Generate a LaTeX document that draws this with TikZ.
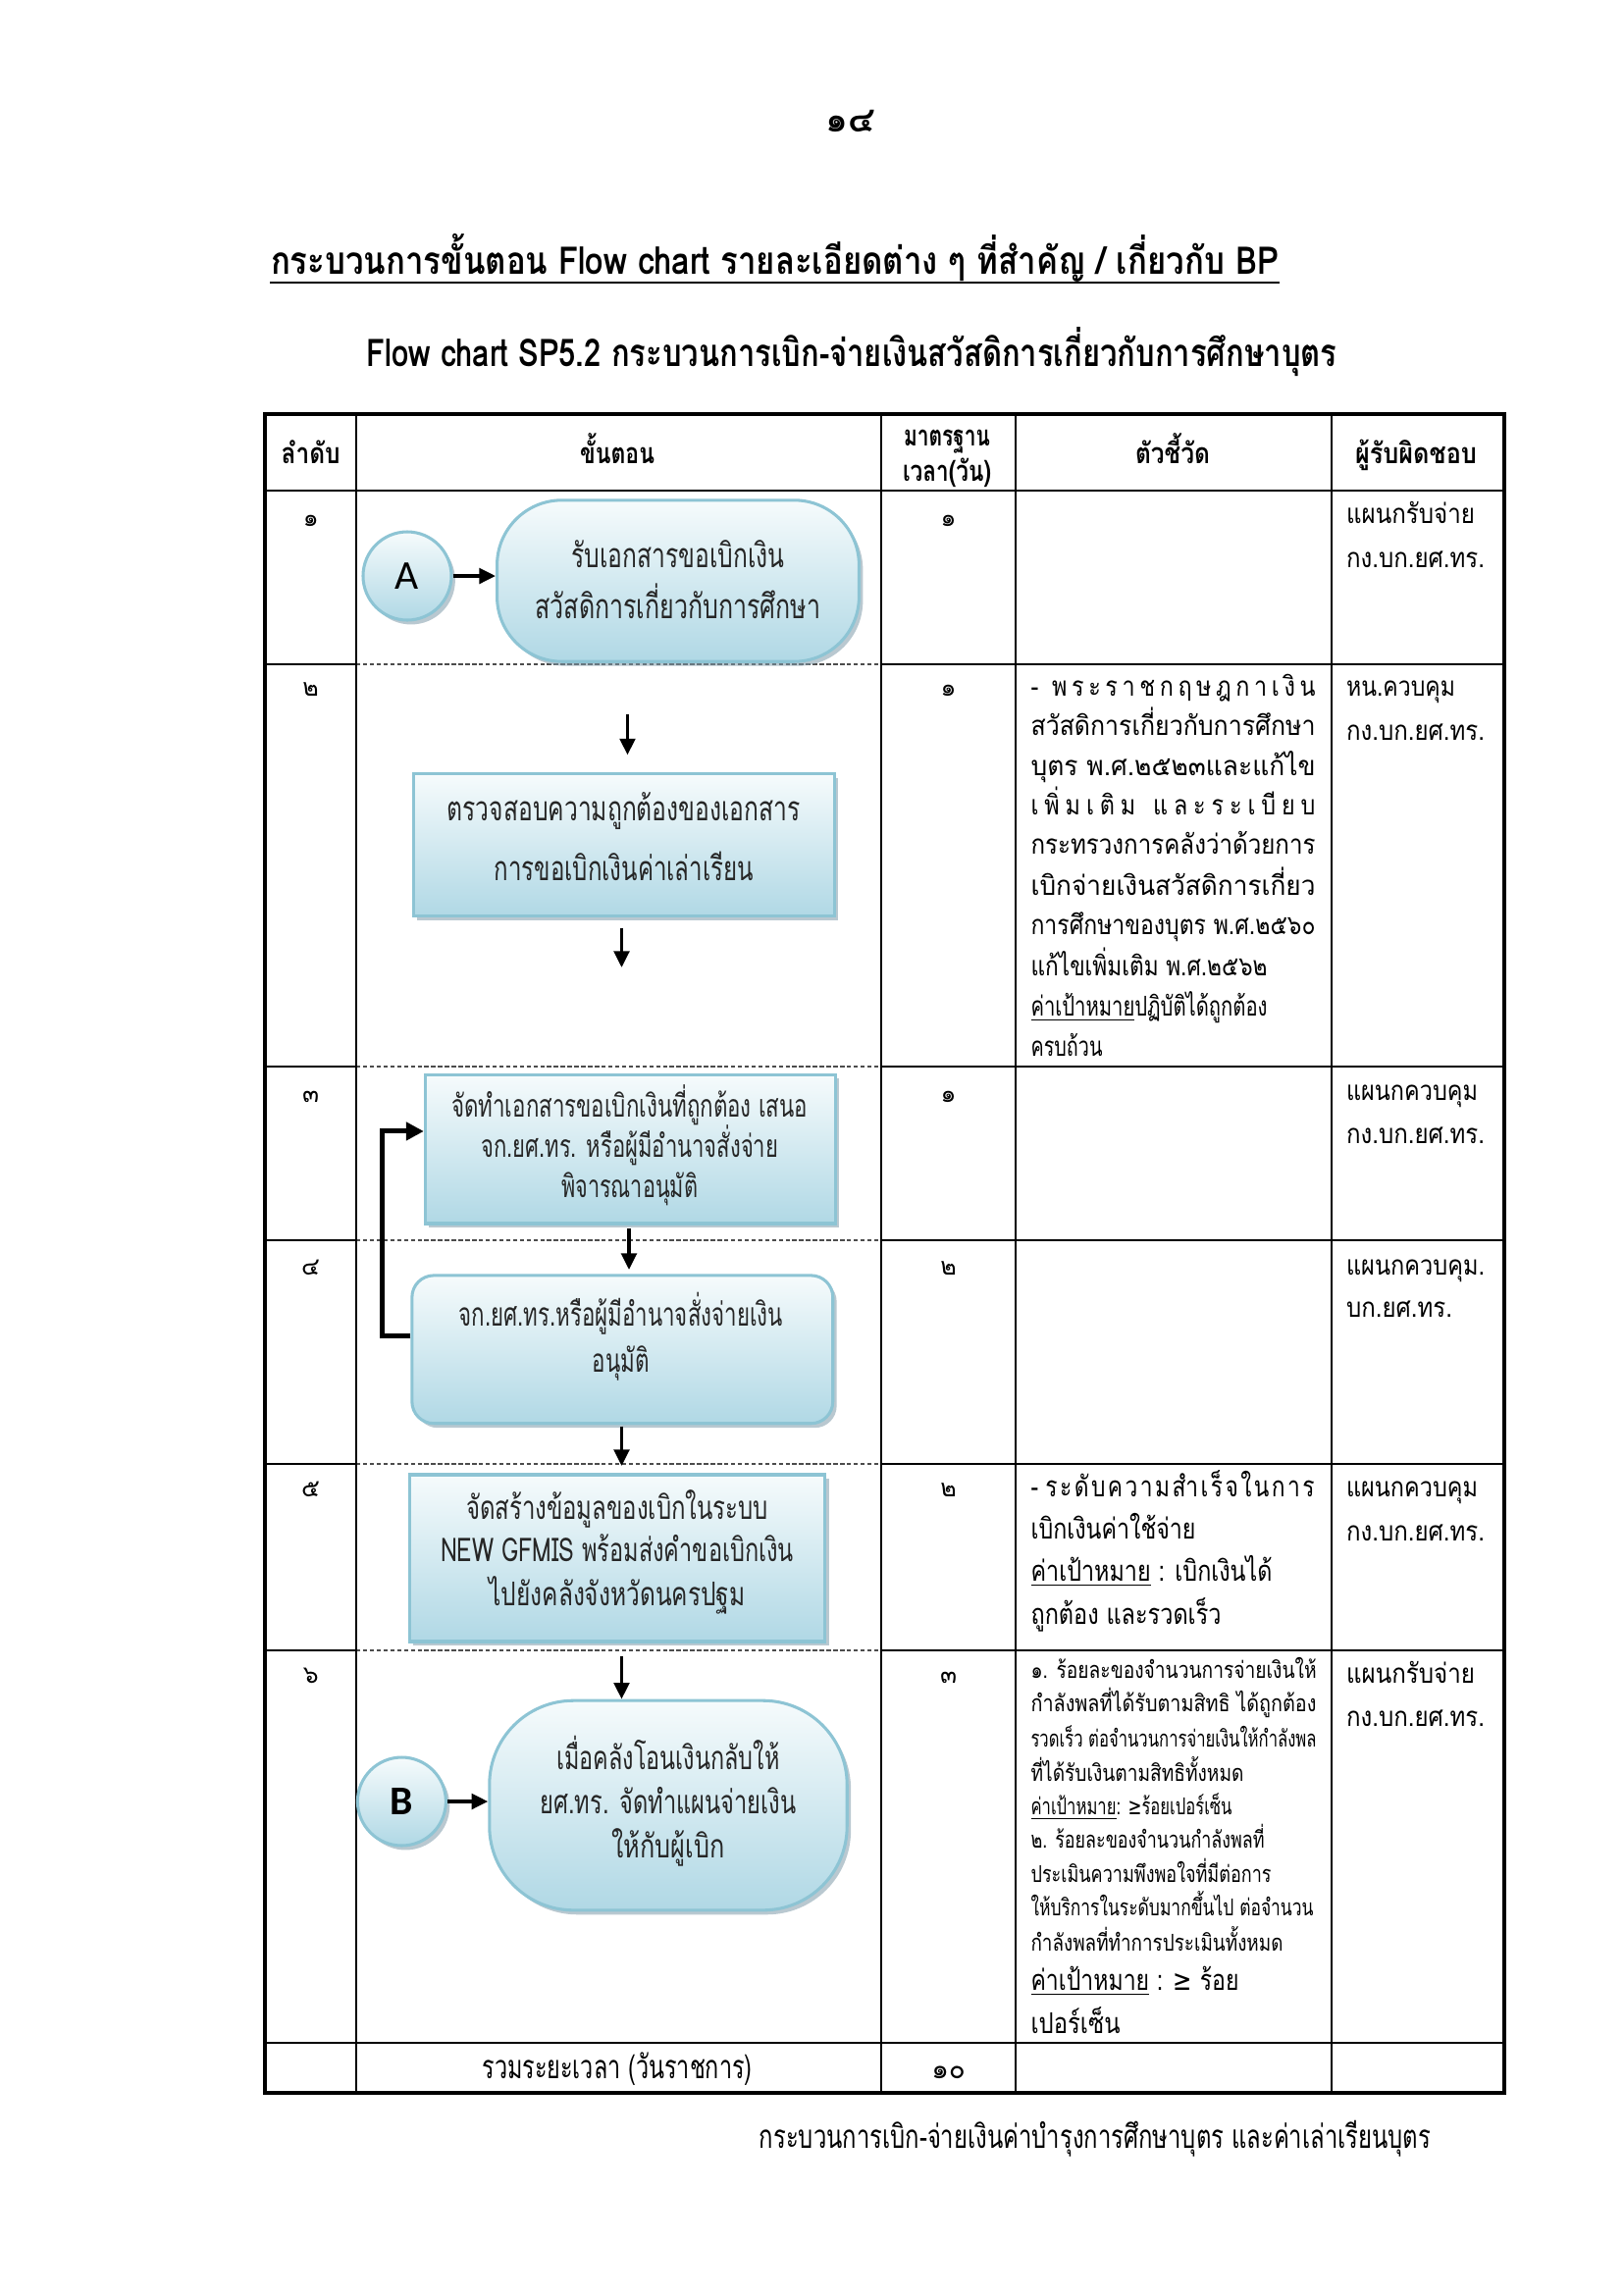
\documentclass[tikz,border=0pt]{standalone}
\usepackage{fontspec}
\usepackage{graphicx}
\setmainfont[Script=Thai]{Loma}
\newfontfamily\symfont{DejaVu Sans}
\newfontfamily\latfont{Carlito}
\usetikzlibrary{shadows,arrows.meta,calc}
\newdimen\pxu \pxu=0.36pt
\newcommand{\fit}[2]{\resizebox{#1\pxu}{\height}{#2}}
\newcommand{\fsz}[1]{\fontsize{#1}{#1}\selectfont}
\definecolor{bord}{RGB}{141,196,212}
\definecolor{fillB}{RGB}{176,216,229}
\definecolor{fillT}{RGB}{246,251,252}
\definecolor{shad}{RGB}{128,156,170}
\begin{document}
\begin{tikzpicture}[x=0.36pt, y=-0.36pt,
  flow/.style={draw=bord, line width=1.1pt, top color=fillT, bottom color=fillB, inner sep=0pt,
    drop shadow={shadow xshift=1.4pt, shadow yshift=-1.6pt, fill=shad, opacity=0.55}},
  arr/.style={line width=1.3pt, -{Triangle[length=6pt,width=5.6pt]}},
  backarr/.style={line width=1.8pt, -{Triangle[length=6.5pt,width=6.5pt]}},
  ltx/.style={anchor=mid west, inner sep=0pt},
  ctx/.style={anchor=mid, inner sep=0pt},
  outer/.style={line width=1.4pt},
  inner/.style={line width=0.9pt},
  dsh/.style={line width=0.45pt, dash pattern=on 1.6pt off 0.9pt, black!70},
  hd/.style={ctx, font=\bfseries\fsz{10.5}},
  num/.style={ctx, font=\fsz{9}},
  resp/.style={ltx, font=\fsz{10}},
  indA/.style={ltx, font=\fsz{10}},
  indB/.style={ltx, font=\fsz{10.5}},
  indC/.style={ltx, font=\fsz{8.5}},
  ftx/.style={ctx, text=black!85},
]
\fill[white] (0,0) rectangle (1654,2339);
\useasboundingbox (0,0) rectangle (1654,2339);

% ---- titles ----
\node[ctx, font=\bfseries\fsz{13}] (pg) at (866.5,127) {๑๔};
\node[ctx, font=\bfseries\fsz{14}] (t1) at (789.5,272) {\fit{1027}{กระบวนการขั้นตอน Flow chart รายละเอียดต่าง ๆ ที่สำคัญ / เกี่ยวกับ BP}};
\draw[line width=0.9pt] ($(t1.mid west)+(0,16)$) -- ($(t1.mid east)+(0,16)$);
\node[ctx, font=\bfseries\fsz{14}] (t2) at (868,366) {\fit{989}{Flow chart SP5.2 กระบวนการเบิก-จ่ายเงินสวัสดิการเกี่ยวกับการศึกษาบุตร}};

% ---- table ----
\foreach \y in {677,1087,1264,1492,1682} {
  \draw[inner] (270,\y) -- (363,\y);
  \draw[inner] (898,\y) -- (1533,\y);
  \draw[dsh] (363,\y) -- (898,\y);
}
\foreach \x in {363,898,1035,1357} \draw[inner] (\x,422) -- (\x,2133);
\foreach \y in {500,2082} \draw[inner] (270,\y) -- (1533,\y);
\draw[outer] (270,422) rectangle (1533,2133);

% header
\node[hd] (h1) at (316.7,465) {\fit{60}{ลำดับ}};
\node[hd] (h2) at (629,465) {\fit{76}{ขั้นตอน}};
\node[hd] (h3a) at (965,447) {\fit{88}{มาตรฐาน}};
\node[hd] (h3b) at (965,483) {\fit{90}{เวลา(วัน)}};
\node[hd] (h4) at (1195,465) {\fit{76}{ตัวชี้วัด}};
\node[hd] (h5) at (1443,465) {\fit{124}{ผู้รับผิดชอบ}};

% order numbers
\node[num] (n1) at (316.7,529) {๑};
\node[num] (n2) at (316.7,702) {๒};
\node[num] (n3) at (316.7,1116) {๓};
\node[num] (n4) at (316.7,1292) {๔};
\node[num] (n5) at (316.7,1518) {๕};
\node[num] (n6) at (316.7,1708) {๖};
% time
\node[num] (d1) at (966.6,529) {๑};
\node[num] (d2) at (966.6,702) {๑};
\node[num] (d3) at (966.6,1116) {๑};
\node[num] (d4) at (966.6,1292) {๒};
\node[num] (d5) at (966.6,1518) {๒};
\node[num] (d6) at (966.6,1708) {๓};
\node[num, font=\fsz{10}] (dt) at (966.6,2111) {๑๐};

% responsible
\node[resp] (rA1) at (1371.5,526) {\fit{131}{แผนกรับจ่าย}};
\node[resp] (rA2) at (1371.5,571) {\fit{141}{กง.บก.ยศ.ทร.}};
\node[resp] (rB1) at (1371.5,702) {\fit{111}{หน.ควบคุม}};
\node[resp] (rB2) at (1371.5,747) {\fit{141}{กง.บก.ยศ.ทร.}};
\node[resp] (rC1) at (1371.5,1114.5) {\fit{134}{แผนกควบคุม}};
\node[resp] (rC2) at (1371.5,1158) {\fit{141}{กง.บก.ยศ.ทร.}};
\node[resp] (rD1) at (1371.5,1292) {\fit{141}{แผนกควบคุม.}};
\node[resp] (rD2) at (1371.5,1335.6) {\fit{108}{บก.ยศ.ทร.}};
\node[resp] (rE1) at (1371.5,1518) {\fit{134}{แผนกควบคุม}};
\node[resp] (rE2) at (1371.5,1563) {\fit{141}{กง.บก.ยศ.ทร.}};
\node[resp] (rF1) at (1371.5,1708) {\fit{131}{แผนกรับจ่าย}};
\node[resp] (rF2) at (1371.5,1752.5) {\fit{141}{กง.บก.ยศ.ทร.}};

% indicators row 2
\node[indA] (i2a) at (1050,702) {\fit{290}{\makebox[345\pxu][s]{-\hfill\hfill\hfill พ\hfill ร\hfill ะ\hfill ร\hfill า\hfill ช\hfill ก\hfill ฤ\hfill ษ\hfill ฎ\hfill ก\hfill า\hfill เ\hfill งิ\hfill น}}};
\node[indA] (i2b) at (1050,742.5) {\fit{290}{สวัสดิการเกี่ยวกับการศึกษา}};
\node[indA] (i2c) at (1050,783) {\fit{290}{บุตร พ.ศ.๒๕๒๓และแก้ไข}};
\node[indA] (i2d) at (1050,823) {\fit{290}{\makebox[345\pxu][s]{เ\hfill พิ่\hfill ม\hfill เ\hfill ติ\hfill ม\hfill\hfill\hfill แ\hfill ล\hfill ะ\hfill ร\hfill ะ\hfill เ\hfill บี\hfill ย\hfill บ}}};
\node[indA] (i2e) at (1050,863.5) {\fit{290}{กระทรวงการคลังว่าด้วยการ}};
\node[indA] (i2f) at (1050,905) {\fit{290}{เบิกจ่ายเงินสวัสดิการเกี่ยว}};
\node[indA] (i2g) at (1050,945.7) {\fit{290}{การศึกษาของบุตร พ.ศ.๒๕๖๐}};
\node[indA] (i2h) at (1050,987.5) {\fit{241}{แก้ไขเพิ่มเติม พ.ศ.๒๕๖๒}};
\node[indA] (i2i) at (1050,1028) {\fit{241}{\underline{ค่าเป้าหมาย}ปฏิบัติได้ถูกต้อง}};
\node[indA] (i2j) at (1050,1069.7) {\fit{73}{ครบถ้วน}};

% indicators row 5
\node[indB] (i5a) at (1050,1518) {\fit{289}{\makebox[370\pxu][s]{-\hfill\hfill\hfill ร\hfill ะ\hfill ดั\hfill บ\hfill ค\hfill ว\hfill า\hfill ม\hfill สำ\hfill เ\hfill ร็\hfill จ\hfill ใ\hfill น\hfill ก\hfill า\hfill ร}}};
\node[indB] (i5b) at (1050,1561) {\fit{168}{เบิกเงินค่าใช้จ่าย}};
\node[indB] (i5c) at (1050,1604.6) {\fit{246}{\underline{ค่าเป้าหมาย} : เบิกเงินได้}};
\node[indB] (i5d) at (1050,1648) {\fit{194}{ถูกต้อง และรวดเร็ว}};

% indicators row 6
\node[indC] (i6a) at (1050,1703) {\fit{291}{๑. ร้อยละของจำนวนการจ่ายเงินให้}};
\node[indC] (i6b) at (1050,1737.5) {\fit{291}{กำลังพลที่ได้รับตามสิทธิ ได้ถูกต้อง}};
\node[indC] (i6c) at (1050,1773) {\fit{291}{รวดเร็ว ต่อจำนวนการจ่ายเงินให้กำลังพล}};
\node[indC] (i6d) at (1050,1808) {\fit{217}{ที่ได้รับเงินตามสิทธิทั้งหมด}};
\node[indC] (i6e) at (1050,1842) {\fit{205}{\underline{ค่าเป้าหมาย}: {\symfont ≥}ร้อยเปอร์เซ็น}};
\node[indC] (i6f) at (1050,1876.5) {\fit{238}{๒. ร้อยละของจำนวนกำลังพลที่}};
\node[indC] (i6g) at (1050,1911) {\fit{245}{ประเมินความพึงพอใจที่มีต่อการ}};
\node[indC] (i6h) at (1050,1945) {\fit{288}{ให้บริการในระดับมากขึ้นไป ต่อจำนวน}};
\node[indC] (i6i) at (1050,1981) {\fit{257}{กำลังพลที่ทำการประเมินทั้งหมด}};
\node[indB] (i6j) at (1050,2021) {\fit{212}{\underline{ค่าเป้าหมาย} : {\symfont ≥} ร้อย}};
\node[indB] (i6k) at (1050,2065) {\fit{91}{เปอร์เซ็น}};

% total row and footer
\node[ctx, font=\fsz{12}] (tot) at (629,2111) {\fit{275}{รวมระยะเวลา (วันราชการ)}};
\node[ctx, font=\fsz{12}] (foot) at (1116,2182) {\fit{684}{กระบวนการเบิก-จ่ายเงินค่าบำรุงการศึกษาบุตร และค่าเล่าเรียนบุตร}};

% ---- flow shapes ----
\node[flow, circle, minimum size=32.4pt] (A) at (415,587) {\latfont\fsz{15}A};
\node[flow, rectangle, rounded corners=23.8pt, minimum width=132.8pt, minimum height=59.2pt] (T1) at (691,592) {};
\node[flow, rectangle, minimum width=154.4pt, minimum height=52.2pt] (box2) at (635.6,861.4) {};
\node[flow, rectangle, minimum width=150.5pt, minimum height=54.7pt] (box3) at (642.4,1171) {};
\node[flow, rectangle, rounded corners=8pt, minimum width=154.4pt, minimum height=54.3pt] (box4) at (634.3,1375.3) {};
\node[flow, rectangle, minimum width=152.6pt, minimum height=61.2pt] (box5) at (629,1588) {};
\node[flow, circle, minimum size=32.4pt] (B) at (409.4,1836) {\latfont\bfseries\fsz{15}B};
\node[flow, rectangle, rounded corners=30.8pt, minimum width=131.2pt, minimum height=76.9pt] (T6) at (681,1840) {};

% texts in shapes
\node[ftx, font=\fsz{12.5}] (T1a) at (691,571) {\fit{217}{รับเอกสารขอเบิกเงิน}};
\node[ftx, font=\fsz{12.5}] (T1b) at (691,623) {\fit{291}{สวัสดิการเกี่ยวกับการศึกษา}};
\node[ftx, font=\fsz{12.5}] (b2a) at (635.7,829) {\fit{360}{ตรวจสอบความถูกต้องของเอกสาร}};
\node[ftx, font=\fsz{12.5}] (b2b) at (635.7,890) {\fit{264}{การขอเบิกเงินค่าเล่าเรียน}};
\node[ftx, font=\fsz{11.5}] (b3a) at (641.7,1131.5) {\fit{363}{จัดทำเอกสารขอเบิกเงินที่ถูกต้อง เสนอ}};
\node[ftx, font=\fsz{11.5}] (b3b) at (641.7,1172) {\fit{303}{จก.ยศ.ทร. หรือผู้มีอำนาจสั่งจ่าย}};
\node[ftx, font=\fsz{11.5}] (b3c) at (641.7,1213.6) {\fit{139}{พิจารณาอนุมัติ}};
\node[ftx, font=\fsz{12}] (b4a) at (632.7,1344) {\fit{330}{จก.ยศ.ทร.หรือผู้มีอำนาจสั่งจ่ายเงิน}};
\node[ftx, font=\fsz{12}] (b4b) at (632.7,1391.5) {\fit{58}{อนุมัติ}};
\node[ftx, font=\fsz{12}] (b5a) at (629,1541) {\fit{308}{จัดสร้างข้อมูลของเบิกในระบบ}};
\node[ftx, font=\fsz{12}] (b5b) at (629,1584) {\fit{360}{NEW GFMIS พร้อมส่งคำขอเบิกเงิน}};
\node[ftx, font=\fsz{12}] (b5c) at (629,1629) {\fit{261}{ไปยังคลังจังหวัดนครปฐม}};
\node[ftx, font=\fsz{12}] (T6a) at (681,1796) {\fit{227}{เมื่อคลังโอนเงินกลับให้}};
\node[ftx, font=\fsz{12}] (T6b) at (681,1841) {\fit{261}{ยศ.ทร. จัดทำแผนจ่ายเงิน}};
\node[ftx, font=\fsz{12}] (T6c) at (681,1886) {\fit{115}{ให้กับผู้เบิก}};

% ---- connectors ----
\draw[arr] (A) -- (A -| T1.west);
\coordinate (p1) at (639.5,727.6);
\coordinate (p2) at (639.5,769.4);
\draw[arr] (p1) -- (p2);
\coordinate (p3) at (633.5,945.7);
\coordinate (p4) at (633.5,986);
\draw[arr] (p3) -- (p4);
\coordinate (p5) at (641,1252);
\coordinate (p6) at (641,1294);
\draw[arr] (p5) -- (p6);
\draw[backarr] ([yshift=5pt]box4.west) -- ++(-29,0) |- ([yshift=6.5pt]box3.west);
\coordinate (p7) at (633.5,1453.6);
\coordinate (p8) at (633.5,1494);
\draw[arr] (p7) -- (p8);
\coordinate (p9) at (633.5,1688);
\draw[arr] (p9) -- (p9 |- T6.north);
\draw[arr] (B) -- (B -| T6.west);
\end{tikzpicture}
\end{document}
